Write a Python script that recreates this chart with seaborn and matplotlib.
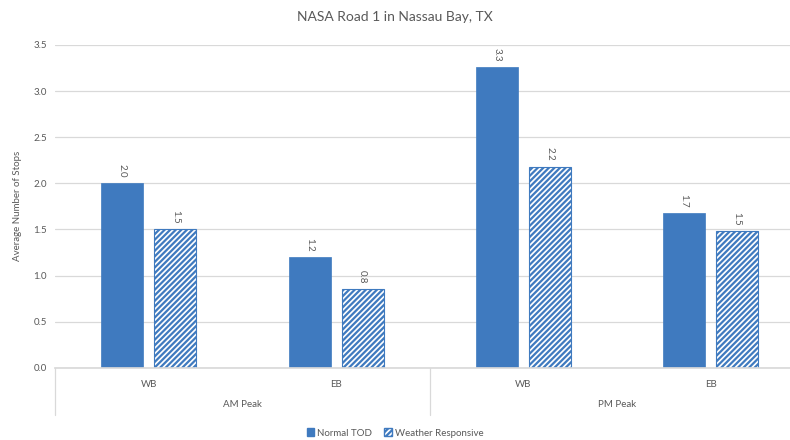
import pandas as pd
import matplotlib.pyplot as plt
import matplotlib.transforms as mtransforms
from matplotlib.patches import Patch
import seaborn as sns

# data
peaks = ["AM Peak", "AM Peak", "PM Peak", "PM Peak"]
directions = ["WB", "EB", "WB", "EB"]
normal_tod = [2.0, 1.2, 3.26, 1.68]
weather_responsive = [1.5, 0.85, 2.18, 1.48]
series_names = ["Normal TOD", "Weather Responsive"]

blue = "#3F7ABF"
grey_text = "#595959"

sns.set_theme(style="white")
plt.rcParams["font.family"] = ["Lato", "DejaVu Sans"]
plt.rcParams["hatch.linewidth"] = 1.6

rows = []
for i in range(len(directions)):
    cat = f"{peaks[i]}|{directions[i]}"
    rows.append({"cat": cat, "series": series_names[0], "value": normal_tod[i]})
    rows.append({"cat": cat, "series": series_names[1], "value": weather_responsive[i]})
df = pd.DataFrame(rows)

fig = plt.figure(figsize=(7.9, 4.4), dpi=100)
# plot area runs a bit past the right edge, like the reference
ax = fig.add_axes([0.07, 0.164, 0.948, 0.734])

sns.barplot(data=df, x="cat", y="value", hue="series", width=0.566, gap=0.205,
            palette=[blue, blue], saturation=1, legend=False, ax=ax)

for p in ax.containers[0]:
    p.set_edgecolor(blue)
    p.set_linewidth(0.5)

# style the weather responsive bars with hatch
for p in ax.containers[1]:
    p.set_facecolor("white")
    p.set_edgecolor(blue)
    p.set_hatch("//////")
    p.set_linewidth(0.8)

for cont in ax.containers:
    ax.bar_label(cont, fmt="%.1f", rotation=-90, padding=4, fontsize=7, color=grey_text)

ax.set_ylim(0, 3.5)
ax.set_xlim(-0.5, 3.5)
ax.set_yticks([0, 0.5, 1.0, 1.5, 2.0, 2.5, 3.0, 3.5])
ax.set_yticklabels([f"{v:.1f}" for v in ax.get_yticks()], fontsize=7, color=grey_text)
ax.yaxis.grid(True, color="#D9D9D9", linewidth=0.9)
ax.set_axisbelow(True)
for s in ["top", "right", "left"]:
    ax.spines[s].set_visible(False)
ax.spines["bottom"].set_color("#D9D9D9")
ax.tick_params(axis="both", length=0, pad=6)

ax.set_xticks(range(len(directions)))
ax.set_xticklabels(directions, fontsize=7, color=grey_text)
ax.tick_params(axis="x", pad=9)
ax.set_xlabel("")
ax.set_ylabel("Average Number of Stops", fontsize=7, color=grey_text, labelpad=8)

# second level of category labels
trans = mtransforms.blended_transform_factory(ax.transData, ax.transAxes)
ax.text(0.5, -0.115, "AM Peak", transform=trans, ha="center", va="center", fontsize=7, color=grey_text)
ax.text(2.5, -0.115, "PM Peak", transform=trans, ha="center", va="center", fontsize=7, color=grey_text)
for xs in [-0.5, 1.5, 3.5]:
    ax.plot([xs, xs], [0, -0.145], transform=trans, color="#D9D9D9", linewidth=0.9, clip_on=False)

fig.suptitle("NASA Road 1 in Nassau Bay, TX", y=0.975, fontsize=10, color=grey_text)

handles = [Patch(facecolor=blue, edgecolor=blue),
           Patch(facecolor="white", edgecolor=blue, hatch="//////")]
fig.legend(handles, series_names, loc="center", bbox_to_anchor=(0.5, 0.016), ncol=2,
           frameon=False, fontsize=7, handlelength=0.8, handleheight=0.8,
           handletextpad=0.3, columnspacing=1.2, labelcolor=grey_text)

fig.savefig("out.png", dpi=100)
